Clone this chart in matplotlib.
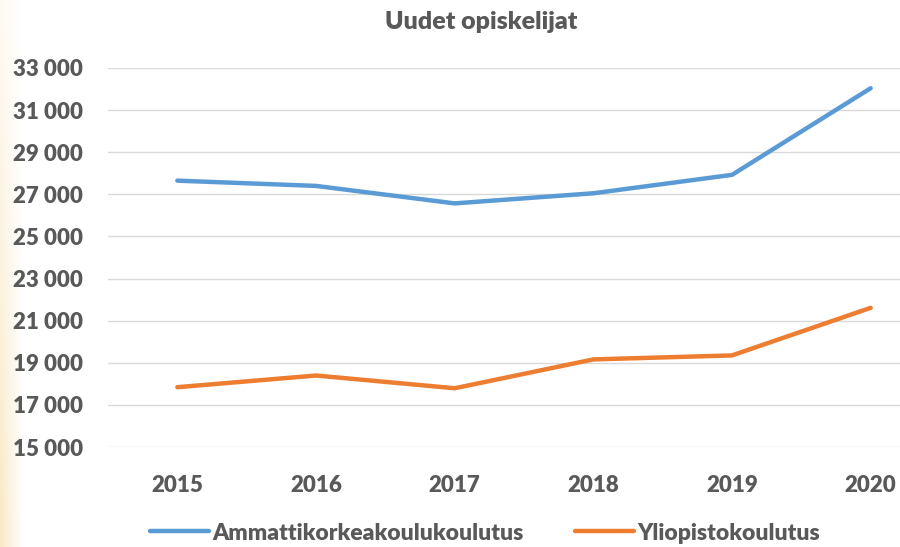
import matplotlib.pyplot as plt
import numpy as np
from matplotlib.ticker import FuncFormatter

# data
years = [2015, 2016, 2017, 2018, 2019, 2020]
amk = [27650, 27400, 26570, 27050, 27925, 32040]
yliopisto = [17840, 18395, 17790, 19160, 19350, 21610]
series_names = ["Ammattikorkeakoulukoulutus", "Yliopistokoulutus"]

text_col = "#595959"
plt.rcParams['font.family'] = ['Lato', 'DejaVu Sans']

fig = plt.figure(figsize=(9, 5.47), dpi=100)

# faint warm glow on the left edge
glow = fig.add_axes([0, 0, 0.025, 1])
rgba = np.zeros((50, 40, 4))
rgba[..., 0] = 0.96
rgba[..., 1] = 0.82
rgba[..., 2] = 0.55
fade_x = np.linspace(1, 0, 40)[None, :]
fade_y = np.linspace(0.2, 1, 50)[:, None]
rgba[..., 3] = fade_x * fade_y * 0.5
glow.imshow(rgba, aspect='auto', extent=[0, 1, 0, 1])
glow.axis('off')

ax = fig.add_axes([108 / 900, 1 - 447 / 547, 832 / 900, 379 / 547])
x = np.arange(len(years))
ax.plot(x, amk, color="#5B9BD5", lw=3.2, solid_capstyle='round', label=series_names[0])
ax.plot(x, yliopisto, color="#ED7D31", lw=3.2, solid_capstyle='round', label=series_names[1])

ax.set_xlim(-0.5, len(years) - 0.5)
ax.set_ylim(15000, 33000)
ax.set_yticks(range(15000, 33001, 2000))
ax.yaxis.set_major_formatter(FuncFormatter(lambda v, p: f"{int(v):,}".replace(",", " ")))
ax.set_xticks(x)
ax.set_xticklabels([str(y) for y in years])
ax.grid(axis='y', color="#D9D9D9", lw=1)
ax.set_axisbelow(True)
for s in ax.spines.values():
    s.set_visible(False)
ax.tick_params(length=0, labelsize=16, labelcolor=text_col)
ax.tick_params(axis='y', pad=18)
ax.tick_params(axis='x', pad=20)
for lab in ax.get_xticklabels() + ax.get_yticklabels():
    lab.set_fontweight('heavy')

fig.text(481 / 900, 1 - 22 / 547, "Uudet opiskelijat", ha='center', va='center',
         fontsize=18, fontweight='heavy', color=text_col)

leg = fig.legend(loc='center', bbox_to_anchor=(485 / 900, 1 - 533 / 547), ncol=2,
                 frameon=False, handlelength=2.6, columnspacing=2.2, handletextpad=0.15,
                 prop={'size': 16.5, 'weight': 'heavy'})
for t in leg.get_texts():
    t.set_color(text_col)

fig.savefig("out.png", dpi=100)
